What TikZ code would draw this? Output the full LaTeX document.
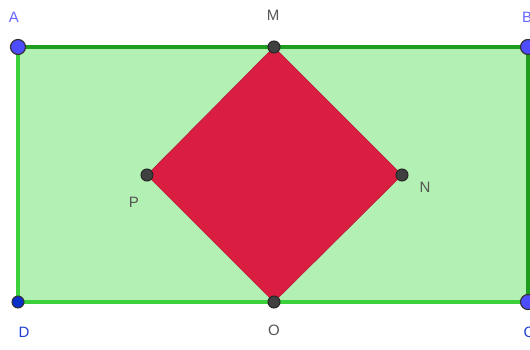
\documentclass[tikz,border=0pt]{standalone}
\usepackage{fontspec}
\setmainfont{Liberation Sans}
\definecolor{rectfill}{HTML}{B3F0B3}
\definecolor{darkedge}{HTML}{1E9E1E}
\definecolor{lightedge}{HTML}{3DD03D}
\definecolor{redfill}{HTML}{DA1E42}
\definecolor{ptblue}{HTML}{4D4DFF}
\definecolor{ptdblue}{HTML}{0A2FC8}
\definecolor{lblblue}{HTML}{6666FF}
\definecolor{lbldblue}{HTML}{1F3FD0}
\definecolor{lblgray}{HTML}{555555}
\begin{document}
\begin{tikzpicture}[x=1pt,y=-1pt,
  bluept/.style={circle,fill=ptblue,draw=black!80,line width=1.2pt,minimum size=15pt,inner sep=0pt},
  dbluept/.style={circle,fill=ptdblue,draw=black!80,line width=1pt,minimum size=12pt,inner sep=0pt},
  graypt/.style={circle,fill=black!75,draw=black!85,line width=1pt,minimum size=12pt,inner sep=0pt},
  lbl/.style={font=\fontsize{15}{15}\selectfont,inner sep=0pt,text=lblgray},
  lblb/.style={lbl,text=lblblue},
  lbld/.style={lbl,text=lbldblue}]
\useasboundingbox (0,0) rectangle (530,349);
\coordinate (A) at (18,47);
\coordinate (B) at (528,47);
\coordinate (C) at (528,302);
\coordinate (D) at (18,302);
\coordinate (M) at (274,47);
\coordinate (N) at (402,175);
\coordinate (O) at (274,302);
\coordinate (P) at (147,175);
\fill[rectfill] (A) rectangle (C);
\draw[darkedge,line width=3.5pt] (D) -- (A) -- (B) -- (C);
\draw[lightedge,line width=3.5pt] (C) -- (D) -- (A);
\draw[darkedge,line width=3.5pt] (A) -- (B);
\fill[redfill] (M) -- (N) -- (O) -- (P) -- cycle;
\draw[redfill!85!black,line width=0.6pt] (M) -- (N) -- (O) -- (P) -- cycle;
\node[bluept] (pA) at (A) {};
\node[bluept] (pB) at (B) {};
\node[bluept] (pC) at (C) {};
\node[dbluept] (pD) at (D) {};
\node[graypt] (pM) at (M) {};
\node[graypt] (pN) at (N) {};
\node[graypt] (pO) at (O) {};
\node[graypt] (pP) at (P) {};
\node[lblb] (lA) at (14,17) {A};
\node[lblb] (lB) at (527,17) {B};
\node[lbld] (lC) at (529,332) {C};
\node[lbld] (lD) at (24,332) {D};
\node[lbl] (lM) at (273,15) {M};
\node[lbl] (lN) at (425,187) {N};
\node[lbl] (lO) at (274,330) {O};
\node[lbl] (lP) at (134,202) {P};
\end{tikzpicture}
\end{document}
